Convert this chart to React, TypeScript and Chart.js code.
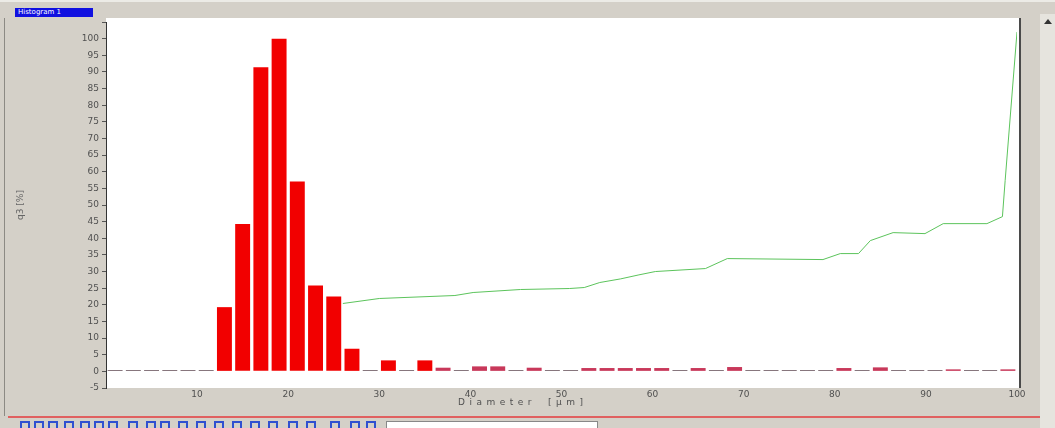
import React, { useEffect, useRef } from 'react';
import { Chart, registerables } from 'chart.js';

Chart.register(...registerables);

// Histogram bins (class centres, µm) and density values
const binCenters = [
  1, 3, 5, 7, 9, 11, 13, 15, 17, 19, 21, 23, 25, 27, 29, 31, 33, 35, 37, 39,
  41, 43, 45, 47, 49, 51, 53, 55, 57, 59, 61, 63, 65, 67, 69, 71, 73, 75, 77, 79,
  81, 83, 85, 87, 89, 91, 93, 95, 97, 99,
];
const q3Values = [
  0.4, 0.4, 0.4, 0.4, 0.4, 0.4, 19.3, 44.3, 91.4, 100, 57.1, 25.8, 22.5, 6.8, 0.4, 3.3, 0.4, 3.3, 1.1, 0.4,
  1.5, 1.5, 0.4, 1.1, 0.4, 0.4, 1.0, 1.0, 1.0, 1.0, 1.0, 0.4, 1.0, 0.4, 1.3, 0.4, 0.4, 0.4, 0.4, 0.4,
  1.0, 0.4, 1.2, 0.4, 0.4, 0.4, 0.6, 0.4, 0.4, 0.6,
];

// Green curve
const curveX = [26, 30, 38.3, 40.3, 45.5, 50.9, 52.5, 54.2, 56.5, 58.5, 60.3, 65.8, 68.2, 78.7, 80.6, 82.6, 83.9, 86.4, 89.9, 91.9, 96.7, 98.4, 98.7, 100];
const curveY = [20.4, 21.9, 22.8, 23.7, 24.6, 24.9, 25.2, 26.7, 27.8, 29.0, 30.0, 30.9, 33.9, 33.6, 35.4, 35.4, 39.3, 41.7, 41.4, 44.4, 44.4, 46.5, 57.4, 102];

const xTickStep = 10;
const yTickStep = 5;
const xTitleWord = 'Diameter';
const xTitleUnit = '[µm]';
const yTitle = 'q3 [%]';
const panelLabel = 'Histogram 1';

export default function App() {
  const ref = useRef<HTMLCanvasElement>(null);

  useEffect(() => {
    if (!ref.current) return;
    const plotBg = {
      id: 'plotBg',
      beforeDraw(chart: any) {
        const { ctx, chartArea } = chart;
        ctx.save();
        ctx.fillStyle = '#ffffff';
        ctx.fillRect(chartArea.left, chartArea.top - 4, chartArea.right - chartArea.left + 3, chartArea.bottom - chartArea.top + 4);
        ctx.fillStyle = '#4a4a4a';
        ctx.fillRect(chartArea.right + 2, chartArea.top - 4, 2, chartArea.bottom - chartArea.top + 4);
        ctx.restore();
      },
    };

    const barColors = q3Values.map((v) => (v >= 3 ? '#f20000' : v > 0.45 ? '#c8385a' : '#6e5a62'));

    const chart = new Chart(ref.current, {
      type: 'bar',
      data: {
        datasets: [
          {
            type: 'line',
            label: 'cumulative',
            data: curveX.map((x, i) => ({ x, y: curveY[i] })),
            borderColor: '#5cc45c',
            borderWidth: 1,
            pointRadius: 0,
            tension: 0,
            fill: false,
          } as any,
          {
            type: 'bar',
            label: 'q3',
            data: binCenters.map((x, i) => ({ x, y: q3Values[i] })),
            backgroundColor: barColors,
            borderWidth: 0,
            barPercentage: 0.82,
            categoryPercentage: 1,
          },
        ],
      },
      options: {
        responsive: false,
        animation: false,
        layout: { padding: { left: 0, top: 22, right: 38, bottom: 0 } },
        plugins: { legend: { display: false }, tooltip: { enabled: false } },
        scales: {
          x: {
            type: 'linear',
            min: 0,
            max: 100,
            offset: false,
            grid: { display: false, drawTicks: false },
            border: { display: false },
            ticks: {
              stepSize: xTickStep,
              padding: 1,
              color: '#505050',
              font: { family: 'DejaVu Sans', size: 9 },
              maxRotation: 0,
              callback: (v: any) => (v === 0 ? '' : String(v)),
            },
            afterFit: (s: any) => {
              s.height = 40;
            },
          },
          y: {
            type: 'linear',
            min: -5,
            max: 105,
            grid: { display: true, drawOnChartArea: false, drawTicks: true, tickLength: 4, color: '#555' },
            border: { display: true, color: '#333', width: 1 },
            ticks: {
              stepSize: yTickStep,
              padding: 3,
              color: '#505050',
              font: { family: 'DejaVu Sans', size: 9 },
              callback: (v: any) => (v > 100 ? '' : String(v)),
            },
            title: {
              display: true,
              text: yTitle,
              color: '#666',
              font: { family: 'DejaVu Sans', size: 9 },
              padding: { top: 15, bottom: 0 },
            },
            afterFit: (s: any) => {
              s.width = 106;
            },
          },
        },
      },
      plugins: [plotBg],
    });
    return () => chart.destroy();
  }, []);

  return (
    <div
      style={{
        position: 'absolute',
        left: 0,
        top: 0,
        width: 1055,
        height: 428,
        background: '#d4d0c8',
        overflow: 'hidden',
        fontFamily: 'DejaVu Sans, sans-serif',
      }}
    >
      <div style={{ position: 'absolute', left: 0, top: 0, width: 1055, height: 2, background: '#ecebe6' }} />
      <div style={{ position: 'absolute', left: 4, top: 18, width: 1, height: 398, background: '#8c8a84' }} />
      <div
        style={{
          position: 'absolute',
          left: 15,
          top: 8,
          width: 78,
          height: 9,
          background: '#1010e0',
          color: '#fff',
          fontSize: 7,
          lineHeight: '9px',
          paddingLeft: 3,
          boxSizing: 'border-box',
          whiteSpace: 'nowrap',
        }}
      >
        {panelLabel}
      </div>
      <canvas ref={ref} width={1055} height={428} style={{ position: 'absolute', left: 0, top: 0, width: 1055, height: 428 }} />
      <div
        style={{
          position: 'absolute',
          left: 458,
          top: 397,
          fontSize: 9,
          letterSpacing: 4.5,
          color: '#505050',
          whiteSpace: 'nowrap',
        }}
      >
        {xTitleWord}
      </div>
      <div
        style={{
          position: 'absolute',
          left: 548,
          top: 397,
          fontSize: 9,
          letterSpacing: 4.5,
          color: '#505050',
          whiteSpace: 'nowrap',
        }}
      >
        {xTitleUnit}
      </div>
      <div style={{ position: 'absolute', left: 1040, top: 14, width: 15, height: 414, background: '#e6e4de' }} />
      <div
        style={{
          position: 'absolute',
          left: 1044,
          top: 19,
          width: 0,
          height: 0,
          borderLeft: '4px solid transparent',
          borderRight: '4px solid transparent',
          borderBottom: '5px solid #333',
        }}
      />
      <div style={{ position: 'absolute', left: 8, top: 416, width: 1032, height: 2, background: '#e06060' }} />
      {[20, 34, 48, 64, 80, 94, 108, 128, 146, 160, 178, 196, 214, 232, 250, 268, 288, 306, 330, 350, 366].map((x, i) => (
        <div
          key={i}
          style={{
            position: 'absolute',
            left: x,
            top: 421,
            width: 10,
            height: 7,
            border: '2px solid #3050d0',
            borderBottom: 'none',
            boxSizing: 'border-box',
          }}
        />
      ))}
      <div style={{ position: 'absolute', left: 386, top: 421, width: 212, height: 8, background: '#fff', border: '1px solid #888', boxSizing: 'border-box' }} />
    </div>
  );
}
